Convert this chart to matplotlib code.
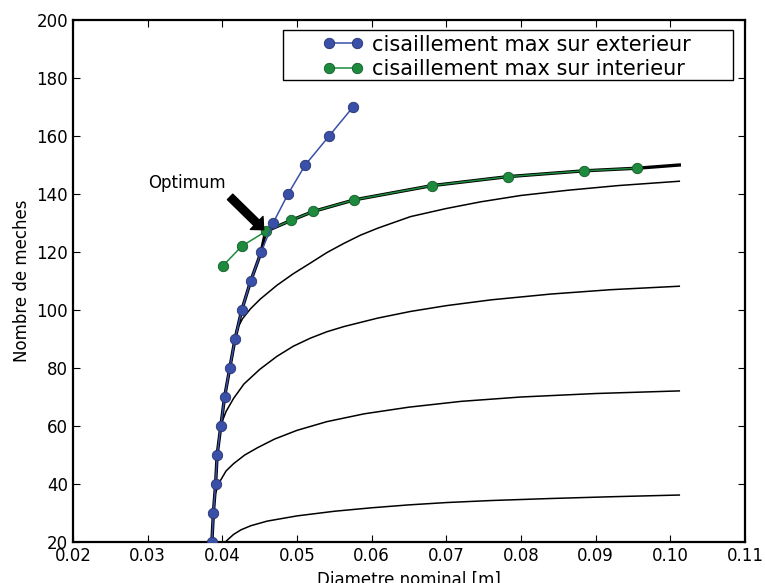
"""Nombre de meches vs diametre nominal, avec limites de cisaillement."""

import matplotlib
matplotlib.use('Agg')
import matplotlib.pyplot as plt
from matplotlib.patches import Rectangle

# Limite cisaillement max sur exterieur
EXT_D = [0.0386, 0.0388, 0.0391, 0.0393, 0.0398, 0.0403, 0.0410, 0.0417,
	0.0426, 0.0438, 0.0452, 0.0468, 0.0488, 0.0511, 0.0543, 0.0575]
EXT_N = [20, 30, 40, 50, 60, 70, 80, 90, 100, 110, 120, 130, 140, 150, 160, 170]

# Limite cisaillement max sur interieur
INT_D = [0.0401, 0.0426, 0.0458, 0.0492, 0.0522, 0.0577, 0.0681, 0.0783, 0.0885, 0.0956]
INT_N = [115.3, 122.0, 127.1, 130.9, 134.0, 138.0, 142.9, 146.0, 148.0, 148.9]

# Enveloppe (optimum) : min des deux limites
ENV_D = [0.0386, 0.0388, 0.0391, 0.0393, 0.0398, 0.0403, 0.0410, 0.0417,
	0.0426, 0.0438, 0.0452, 0.0458, 0.0492, 0.0522, 0.0577, 0.0681,
	0.0783, 0.0885, 0.0956, 0.1012]
ENV_N = [20, 30, 40, 50, 60, 70, 80, 90, 100, 110, 120, 127.1, 130.9, 134.0,
	138.0, 142.9, 146.0, 148.0, 148.9, 150.0]

# Courbes iso (nombre max 36, 72, 108, 144)
C36_D = [0.0404, 0.0409, 0.0415, 0.0425, 0.0438, 0.0460, 0.0500, 0.0550,
	0.0600, 0.0650, 0.0700, 0.0760, 0.0840, 0.0920, 0.1012]
C36_N = [20.0, 21.2, 22.6, 24.2, 25.6, 27.2, 29.0, 30.6, 31.8, 32.8, 33.6,
	34.3, 35.0, 35.6, 36.2]

C72_D = [0.0391, 0.0397, 0.0405, 0.0415, 0.0430, 0.0447, 0.0470, 0.0500,
	0.0540, 0.0590, 0.0650, 0.0720, 0.0800, 0.0900, 0.1012]
C72_N = [37.0, 41.0, 44.5, 47.0, 50.0, 52.5, 55.5, 58.5, 61.5, 64.2, 66.5,
	68.5, 70.0, 71.2, 72.1]

C108_D = [0.0399, 0.0405, 0.0415, 0.0429, 0.0450, 0.0473, 0.0495, 0.0518,
	0.0540, 0.0563, 0.0608, 0.0652, 0.0700, 0.0760, 0.0840, 0.0920, 0.1012]
C108_N = [61.0, 65.0, 69.5, 74.5, 79.5, 84.0, 87.5, 90.3, 92.5, 94.3, 97.2,
	99.5, 101.5, 103.5, 105.5, 107.0, 108.2]

C144_D = [0.0419, 0.0427, 0.0438, 0.0451, 0.0473, 0.0495, 0.0518, 0.0540,
	0.0563, 0.0585, 0.0608, 0.0652, 0.0700, 0.0746, 0.0800, 0.0863, 0.0930, 0.1012]
C144_N = [93.0, 97.0, 100.5, 103.8, 108.5, 112.5, 116.2, 119.8, 123.0, 125.8,
	128.2, 132.2, 135.0, 137.3, 139.5, 141.3, 142.9, 144.4]

ISO_CURVES = [(C36_D, C36_N), (C72_D, C72_N), (C108_D, C108_N), (C144_D, C144_N)]

BLUE = '#3a50a8'
GREEN = '#1e8a3e'

plt.rcParams['font.family'] = ['DejaVu Sans']
plt.rcParams['xtick.direction'] = 'in'
plt.rcParams['ytick.direction'] = 'in'
plt.rcParams['xtick.top'] = True
plt.rcParams['ytick.right'] = True

fig = plt.figure(figsize=(7.65, 5.83), dpi=100)
ax = fig.add_axes([73 / 765, 1 - 542 / 583, 672 / 765, 522 / 583])

for d, n in ISO_CURVES:
	ax.plot(d, n, color='k', linewidth=1.1, zorder=2)
ax.plot(ENV_D, ENV_N, color='k', linewidth=2.4, zorder=2)

ax.plot(EXT_D, EXT_N, '-o', color=BLUE, linewidth=1.1, markersize=7.5,
	markeredgecolor='#27336e', markeredgewidth=0.6, zorder=4,
	label='cisaillement max sur exterieur')
ax.plot(INT_D, INT_N, '-o', color=GREEN, linewidth=1.1, markersize=7.5,
	markeredgecolor='#145a28', markeredgewidth=0.6, zorder=3,
	label='cisaillement max sur interieur')

ax.annotate('Optimum', xy=(0.0458, 127), xytext=(0.030, 142),
	fontsize=12,
	arrowprops={'facecolor': 'black', 'shrink': 0.05, 'width': 5.5,
		'headwidth': 13, 'headlength': 7})

ax.set_xlim(0.02, 0.11)
ax.set_ylim(20, 200)
ax.set_xticks([0.02, 0.03, 0.04, 0.05, 0.06, 0.07, 0.08, 0.09, 0.10, 0.11])
ax.set_xticklabels(['0.02', '0.03', '0.04', '0.05', '0.06', '0.07', '0.08',
	'0.09', '0.10', '0.11'])
ax.set_yticks(range(20, 201, 20))
ax.tick_params(labelsize=12, length=5, width=0.8)
for spine in ax.spines.values():
	spine.set_linewidth(1.6)

ax.set_xlabel('Diametre nominal [m]', fontsize=12, labelpad=4)
ax.set_ylabel('Nombre de meches', fontsize=12)

# legend frame is wider than its content, as in the original
frame = Rectangle((0.3125, 0.885), 0.6695, 0.096, transform=ax.transAxes,
	facecolor='white', edgecolor='black', linewidth=1.0, zorder=4.5)
ax.add_patch(frame)
leg = ax.legend(loc='upper left', bbox_to_anchor=(0.372, 0.972), fontsize=15,
	numpoints=2, frameon=False, handlelength=1.92, borderpad=0,
	borderaxespad=0, labelspacing=0.22, handletextpad=0.43)
leg.set_zorder(5)

fig.savefig('out.png', dpi=100)
